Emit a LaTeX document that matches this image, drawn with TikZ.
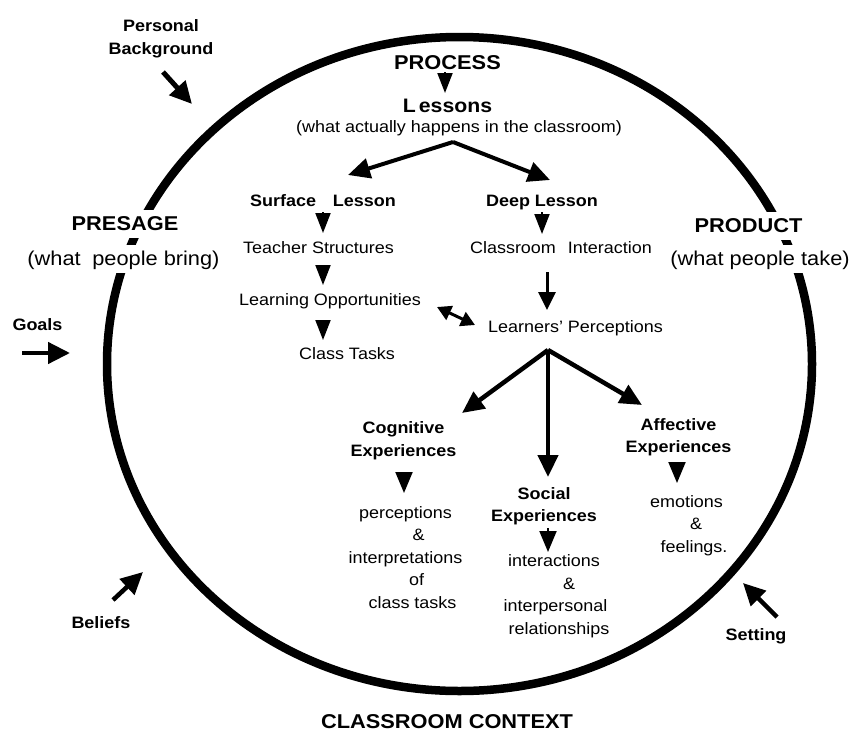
\documentclass[tikz,border=0pt]{standalone}
\usepackage{fontspec}
\setmainfont[FakeStretch=1.09]{Liberation Sans}
\usetikzlibrary{arrows.meta,calc}
\begin{document}
\begin{tikzpicture}[x=1pt,y=-1pt,
  txt/.style={inner sep=0pt, anchor=base, align=center, font=\fontsize{16.5}{22.5}\selectfont},
  btxt/.style={txt, font=\bfseries\fontsize{16.5}{22.5}\selectfont},
  bigtxt/.style={txt, font=\bfseries\fontsize{20}{24}\selectfont},
  parentxt/.style={txt, font=\fontsize{20}{24}\selectfont},
  mask/.style={fill=white, inner xsep=2pt, inner ysep=4pt, text height=16pt, text depth=4pt},
  outarrow/.style={line width=5pt, -{Triangle[length=22pt,width=21pt]}},
  brancharrow/.style={line width=4pt, -{Triangle[length=22pt,width=20pt]}},
  tri/.style={line width=2pt, -{Triangle[length=20pt,width=15pt]}},
  slim/.style={line width=3pt, -{Triangle[length=18pt,width=17pt]}},
  both/.style={line width=3pt, {Triangle[length=14pt,width=15pt]}-{Triangle[length=14pt,width=15pt]}}
]
\fill[white] (0,0) rectangle (851,731);
\useasboundingbox (0,0) rectangle (851,731);

% classroom context ring
\draw[line width=8.5pt] (459.5,364) ellipse [x radius=352.5pt, y radius=327pt];

% outer labels (multi-line nodes: base = last line)
\node[btxt] (pb) at (161,54) {Personal\\Background};
\node[btxt] (goals) at (37.5,330) {Goals};
\node[btxt] (beliefs) at (101,628) {Beliefs};
\node[btxt] (setting) at (756,640) {Setting};
\node[bigtxt] (context) at (447,728) {CLASSROOM CONTEXT};

\node[bigtxt,mask] (presage) at (125,230) {PRESAGE};
\node[parentxt,mask] (bring) at (123.5,265) {(what\hspace{5.5pt} people bring)};
\node[bigtxt,mask] (product) at (748.5,232) {PRODUCT};
\node[parentxt,mask] (take) at (760,265) {(what people take)};

% process
\node[bigtxt] (process) at (447.5,69.5) {PROCESS};
\node[txt, font=\bfseries\fontsize{19.5}{24}\selectfont] (lessons) at (447.5,112) {L\kern3pt essons};
\node[txt] (lsub) at (459,132) {(what actually happens in the classroom)};

\node[btxt] (surf) at (323,206) {Surface\hspace{12pt} Lesson};
\node[btxt] (deep) at (542,206) {Deep Lesson};
\node[txt] (teach) at (318.5,253) {Teacher Structures};
\node[txt] (inter) at (561,253) {Classroom\hspace{7pt} Interaction};
\node[txt] (learn) at (330,305) {Learning Opportunities};
\node[txt] (tasks) at (347,359) {Class Tasks};
\node[txt] (lp) at (575.5,332) {Learners' Perceptions};

\node[btxt] (cog) at (403.5,456) {Cognitive\\Experiences};
\node[btxt] (soc) at (544,521.5) {Social\\Experiences};
\node[btxt] (aff) at (678.5,452.5) {Affective\\Experiences};

\node[txt] (cogt) at (405.5,608) {perceptions\\\hspace*{26pt}\&\\interpretations\\\hspace*{22pt}of\\\hspace*{14pt}class tasks};
\node[txt] (soct) at (555.5,634) {interactions\hspace*{3pt}\\\hspace*{27pt}\&\\interpersonal\\\hspace*{7pt}relationships};
\node[txt] (afft) at (690,552) {emotions\hspace*{7pt}\\\hspace*{12pt}\&\\\hspace*{8pt}feelings.};

% free ends at the ring
\coordinate (pbT) at (192,104);
\coordinate (goalsT) at (70,353);
\coordinate (beliefsT) at (143,572);
\coordinate (settingT) at (743,583);
\coordinate (split1) at ($(lsub.base)+(-6,10)$);
\coordinate (split2) at ($(lp.base)+(-27.5,18)$);

% arrows into the ring
\draw[outarrow] ($(pb.base)+(2,18)$) -- (pbT);
\draw[outarrow, line width=4.5pt] ($(goals.base)+(-15.5,23)$) -- (goalsT);
\draw[outarrow, line width=4.5pt] ($(beliefs.base)+(12,-28)$) -- (beliefsT);
\draw[outarrow, line width=4.5pt] ($(setting.base)+(21,-23)$) -- (settingT);

% process arrows
\draw[tri] ($(process.base)+(-2.5,2.5)$) -- ($(lessons.base)+(-2.5,-19)$);
\draw[brancharrow] (split1) -- ($(surf.base)+(25,-31)$);
\draw[brancharrow] (split1) -- ($(deep.base)+(8,-26)$);
\draw[tri] ($(surf.base)+(0,6)$) -- ($(teach.base)+(4.5,-20)$);
\draw[tri] ($(teach.base)+(4.5,12)$) -- ($(learn.base)+(-7,-20)$);
\draw[tri] ($(learn.base)+(-7,15)$) -- ($(tasks.base)+(-24,-19)$);
\draw[tri] ($(deep.base)+(0,6)$) -- ($(inter.base)+(-19,-19)$);
\draw[slim] ($(inter.base)+(-14,19)$) -- ($(lp.base)+(-28.5,-22)$);
\draw[both] ($(learn.base)+(107,2)$) -- ($(lp.base)+(-100.5,-7)$);

\draw[brancharrow, line width=4.5pt] (split2) -- ($(cog.base)+(58.5,-43)$);
\draw[brancharrow, line width=4.5pt] (split2) -- ($(soc.base)+(4,-44.5)$);
\draw[brancharrow, line width=4.5pt] (split2) -- ($(aff.base)+(-36.5,-47.5)$);

\draw[tri, -{Triangle[length=21pt,width=17pt]}] ($(cog.base)+(0.5,16)$) -- ($(cogt.base)+(-1.5,-115)$);
\draw[tri, -{Triangle[length=21pt,width=17pt]}] ($(soc.base)+(4,6.5)$) -- ($(soct.base)+(-7.5,-82)$);
\draw[tri, -{Triangle[length=21pt,width=17pt]}] ($(aff.base)+(-1.5,9.5)$) -- ($(afft.base)+(-13,-69)$);
\end{tikzpicture}
\end{document}
